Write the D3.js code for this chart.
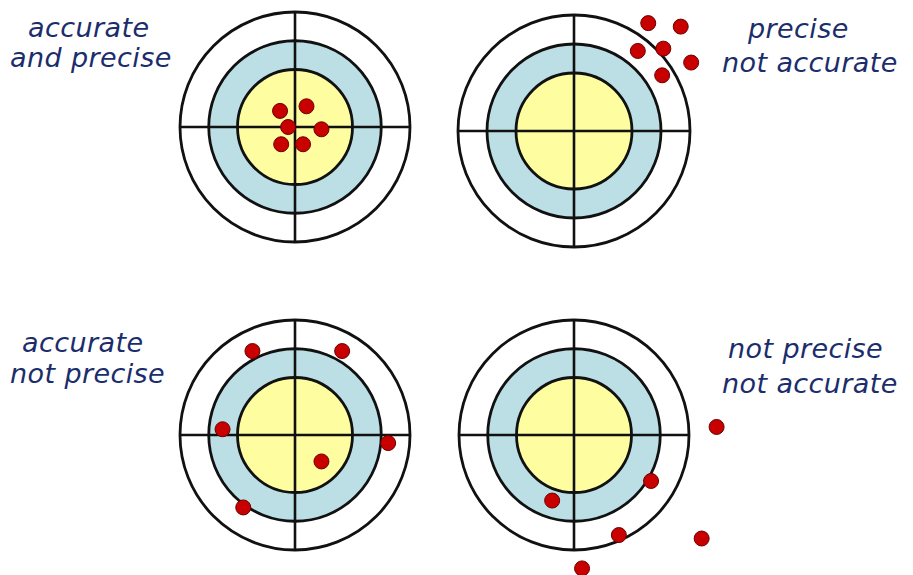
<!DOCTYPE html>
<html>
<head>
<meta charset="utf-8">
<script src="https://cdn.jsdelivr.net/npm/d3@7"></script>
<style>
  body { margin: 0; background: #fff; }
  svg { display: block; }
</style>
</head>
<body>
<div id="chart"></div>
<script>
// Target panels, in reading order
const panels = ["tl", "tr", "bl", "br"];

// Ring radii, in units where the outer ring is 100
const ringRadii = [100, 75, 50];
const ringFills = ["#ffffff", "#bbdfe4", "#fefd9f"];

// Hits per target, [x, y] in the same units (y up)
const hitsAccuratePrecise = [[-13, 14], [10, 18], [-6, 0], [23, -2], [-12, -15], [7, -15]];
const hitsPreciseNotAccurate = [[64, 93], [92, 90], [55, 69], [77, 71], [101, 59], [76, 48]];
const hitsAccurateNotPrecise = [[-37, 73], [41, 73], [-63, 5], [81, -7], [23, -23], [-45, -63]];
const hitsNeither = [[124, 7], [67, -40], [-19, -57], [39, -87], [111, -90], [7, -116]];
const hits = [hitsAccuratePrecise, hitsPreciseNotAccurate, hitsAccurateNotPrecise, hitsNeither];

// Labels, two lines each
const labels = [
    ["accurate", "and precise"],
    ["precise", "not accurate"],
    ["accurate", "not precise"],
    ["not precise", "not accurate"]
];

const width = 913;
const height = 575;

const svg = d3.select("#chart")
    .append("svg")
    .attr("width", width)
    .attr("height", height);

// Layout of each panel on the page
const layout = {
    tl: { cx: 295, cy: 127, r: 115, text: [[28, 37], [10, 67]] },
    tr: { cx: 574, cy: 131, r: 116, text: [[748, 38], [722, 72]] },
    bl: { cx: 295, cy: 435, r: 115, text: [[22, 352], [10, 383]] },
    br: { cx: 574, cy: 435, r: 115, text: [[728, 358], [722, 393]] }
};

panels.forEach((key, i) => {
    const p = layout[key];
    const x = d3.scaleLinear().domain([-100, 100]).range([p.cx - p.r, p.cx + p.r]);
    const y = d3.scaleLinear().domain([-100, 100]).range([p.cy + p.r, p.cy - p.r]);
    const rs = d3.scaleLinear().domain([0, 100]).range([0, p.r]);

    const g = svg.append("g");

    // Rings
    g.selectAll("circle.ring")
        .data(ringRadii)
        .enter()
        .append("circle")
        .attr("class", "ring")
        .attr("cx", x(0))
        .attr("cy", y(0))
        .attr("r", d => rs(d))
        .attr("fill", (d, j) => ringFills[j])
        .attr("stroke", "#111")
        .attr("stroke-width", 2.8);

    // Cross hairs
    g.append("line")
        .attr("x1", x(-100)).attr("x2", x(100))
        .attr("y1", y(0)).attr("y2", y(0))
        .attr("stroke", "#111").attr("stroke-width", 2.6);
    g.append("line")
        .attr("x1", x(0)).attr("x2", x(0))
        .attr("y1", y(-100)).attr("y2", y(100))
        .attr("stroke", "#111").attr("stroke-width", 2.6);

    // Hits
    g.selectAll("circle.hit")
        .data(hits[i])
        .enter()
        .append("circle")
        .attr("class", "hit")
        .attr("cx", d => x(d[0]))
        .attr("cy", d => y(d[1]))
        .attr("r", 7.5)
        .attr("fill", "#c90000")
        .attr("stroke", "#6a0000")
        .attr("stroke-width", 1);

    // Label
    g.selectAll("text")
        .data(labels[i])
        .enter()
        .append("text")
        .attr("x", (d, j) => p.text[j][0])
        .attr("y", (d, j) => p.text[j][1])
        .attr("font-family", "'Comic Sans MS', 'DejaVu Sans', sans-serif")
        .attr("font-style", "italic")
        .attr("font-size", "27px")
        .attr("letter-spacing", "0.4px")
        .attr("fill", "#1b2d6b")
        .text(d => d);
});
</script>
</body>
</html>
